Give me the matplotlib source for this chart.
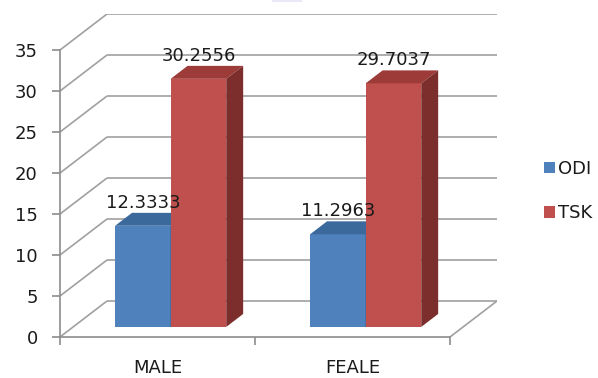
import matplotlib
matplotlib.use("Agg")
import matplotlib.pyplot as plt
from matplotlib.patches import Polygon, Patch, Rectangle
import numpy as np

categories = ["MALE", "FEALE"]
series_names = ["ODI", "TSK"]
odi_values = [12.3333, 11.2963]
tsk_values = [30.2556, 29.7037]
value_labels_odi = ["12.3333", "11.2963"]
value_labels_tsk = ["30.2556", "29.7037"]
y_ticks = [0, 5, 10, 15, 20, 25, 30, 35]

W, H = 598, 378
fig = plt.figure(figsize=(W / 100, H / 100), dpi=100)
plt.rcParams['font.family'] = ['DejaVu Sans']

# 3D depth offsets in data units
DX = 47 / 195.0
DY = 36 / 8.2
YMAX = 35
NC = len(categories)

left_px, right_px = 60, 60 + (NC + DX) * 195
bottom_px = H - 337
top_px = bottom_px + (YMAX + DY) * 8.2
ax = fig.add_axes([left_px / W, bottom_px / H, (right_px - left_px) / W, (top_px - bottom_px) / H])
ax.set_xlim(0, NC + DX)
ax.set_ylim(0, YMAX + DY)
ax.patch.set_alpha(0)

grid_c = "#a0a0a0"
axis_c = "#8c8c8c"
glw = 1.2

# walls / gridlines
for v in y_ticks:
    ax.plot([0, DX], [v, v + DY], color=grid_c, lw=glw, zorder=1, solid_capstyle='butt')
    ax.plot([DX, NC + DX], [v + DY, v + DY], color=grid_c, lw=glw, zorder=1, solid_capstyle='butt')
# floor right edge
ax.plot([NC, NC + DX], [0, DY], color=grid_c, lw=glw, zorder=1)

# spines and ticks
for s in ["top", "right"]:
    ax.spines[s].set_visible(False)
ax.spines["left"].set_bounds(0, YMAX)
ax.spines["bottom"].set_bounds(0, NC)
for s in ["left", "bottom"]:
    ax.spines[s].set_color(axis_c)
    ax.spines[s].set_linewidth(1.2)
ax.set_yticks(y_ticks)
ax.set_yticklabels([str(t) for t in y_ticks])
ax.tick_params(axis='y', direction='out', length=6, width=1.2, color=axis_c, pad=10,
               labelsize=13, labelcolor="#1a1a1a")
ax.set_xticks(np.arange(NC + 1))
ax.set_xticklabels([])
ax.set_xticks(np.arange(NC) + 0.5, minor=True)
ax.set_xticklabels(categories, minor=True)
ax.tick_params(axis='x', which='major', direction='out', length=6, width=1.2, color=axis_c)
ax.tick_params(axis='x', which='minor', length=0, pad=16, labelsize=13, labelcolor="#1a1a1a")

# bars
d1, d2 = 0.28, 0.64
bw = 0.285
ox, oy = d1 * DX, d1 * DY
ddx, ddy = (d2 - d1) * DX, (d2 - d1) * DY
centers = np.arange(NC) + 0.5

styles = [
    dict(front="#4F81BD", top="#3C699C", side="#2F5480"),
    dict(front="#C0504D", top="#9C3B38", side="#7B2E2C"),
]
series = [odi_values, tsk_values]
labels = [value_labels_odi, value_labels_tsk]

for si, (vals, st) in enumerate(zip(series, styles)):
    xl = centers - bw + si * bw + ox
    ax.bar(xl, vals, width=bw, bottom=oy, align='edge', color=st["front"],
           edgecolor='none', zorder=3 + si)
    for x0, v in zip(xl, vals):
        x1 = x0 + bw
        top = oy + v
        ax.add_patch(Polygon([(x0, top), (x1, top), (x1 + ddx, top + ddy), (x0 + ddx, top + ddy)],
                             closed=True, facecolor=st["top"], edgecolor='none', zorder=3 + si))
        ax.add_patch(Polygon([(x1, oy), (x1 + ddx, oy + ddy), (x1 + ddx, top + ddy), (x1, top)],
                             closed=True, facecolor=st["side"], edgecolor='none', zorder=3 + si))

for si, (vals, labs) in enumerate(zip(series, labels)):
    xl = centers - bw + si * bw + ox
    for x0, v, lab in zip(xl, vals, labs):
        ax.annotate(lab, (x0 + bw / 2, oy + v), xytext=(0, 10), textcoords='offset points',
                    ha='center', va='bottom', fontsize=13, color="#1a1a1a", zorder=10)

# legend
handles = [Patch(facecolor=styles[i]["front"], edgecolor='none', label=series_names[i])
           for i in range(len(series_names))]
fig.legend(handles=handles, loc='center left', bbox_to_anchor=(544 / W, 1 - 191 / H),
           frameon=False, fontsize=13, handlelength=0.62, handleheight=0.62,
           handletextpad=0.15, labelspacing=1.45, borderaxespad=0, borderpad=0,
           labelcolor="#1a1a1a")

# faint artifact at top
fig.patches.append(Rectangle((272 / W, 1 - 2 / H), 30 / W, 2 / H, transform=fig.transFigure,
                             facecolor="#e8e8f8", edgecolor='none'))

fig.savefig("out.png", dpi=100)
